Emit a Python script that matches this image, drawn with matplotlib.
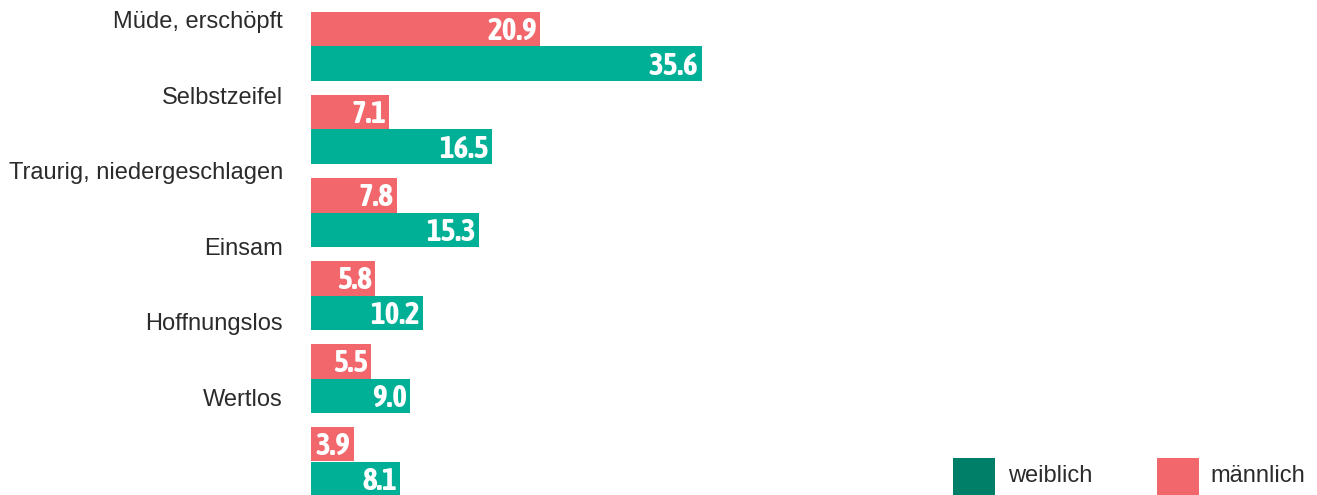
import matplotlib
matplotlib.use("Agg")
import matplotlib.pyplot as plt
from matplotlib.patches import Rectangle
from matplotlib import font_manager as fm

categories = ["Müde, erschöpft", "Selbstzeifel", "Traurig, niedergeschlagen",
              "Einsam", "Hoffnungslos", "Wertlos"]
maennlich = [20.9, 7.1, 7.8, 5.8, 5.5, 3.9]
weiblich = [35.6, 16.5, 15.3, 10.2, 9.0, 8.1]
legend_labels = ["weiblich", "männlich"]

RED = "#f1676c"
GREEN = "#00b096"
GREEN_LEG = "#007f68"
TEXT = "#2b2b2b"

W, H = 1317, 495
fig = plt.figure(figsize=(W / 100, H / 100), dpi=100)
ax = fig.add_axes([311 / W, 0, 1 - 311 / W, 1])

cond = [f for f in fm.fontManager.ttflist if "condensed" in str(f.stretch).lower()
        or "narrow" in f.name.lower() or "condensed" in f.name.lower()]
if cond:
    fp = fm.FontProperties(fname=sorted(cond, key=lambda f: (f.weight != 700 and f.weight != "bold", f.name))[0].fname)
else:
    fp = fm.FontProperties(family="DejaVu Sans", weight="bold")
fp.set_size(22.5)

lab_family = ["Liberation Sans", "DejaVu Sans"]

pitch_px = 83.0
h = 34.5 / pitch_px
n = len(categories)
ys = list(range(n))
y_red = [y - h / 2 for y in ys]
y_green = [y + h / 2 for y in ys]

ax.barh(y_red, maennlich, height=h, color=RED, linewidth=0)
ax.barh(y_green, weiblich, height=h, color=GREEN, linewidth=0)

px_per_unit = 10.97
ax.set_xlim(0, (W - 311) / px_per_unit)
top_off = 46.5 / pitch_px
ax.set_ylim((H - 46.5) / pitch_px, -top_off)
ax.axis("off")

pad = 3 / px_per_unit
for yv, v in zip(y_red, maennlich):
    ax.text(v - pad, yv + 0.03, f"{v:.1f}", ha="right", va="center", color="white",
            fontproperties=fp)
for yv, v in zip(y_green, weiblich):
    ax.text(v - pad, yv + 0.03, f"{v:.1f}", ha="right", va="center", color="white",
            fontproperties=fp)

# category labels (positioned independently as in the reference)
label_top_px = 22
label_pitch_px = 75.6
for i, c in enumerate(categories):
    ypx = label_top_px + i * label_pitch_px
    fig.text(283 / W, 1 - ypx / H, c, ha="right", va="center", color=TEXT,
             fontsize=17, family=lab_family)

# legend
leg_items = [(953, GREEN_LEG, legend_labels[0], 1008), (1157, RED, legend_labels[1], 1210)]
for x0, col, lab, tx in leg_items:
    fig.patches.append(Rectangle((x0 / W, 0), 42 / W, 37 / H, transform=fig.transFigure,
                                 color=col, linewidth=0))
    fig.text(tx / W, 1 - 476 / H, lab, ha="left", va="center", color=TEXT,
             fontsize=17, family=lab_family)

fig.savefig("out.png", dpi=100)
